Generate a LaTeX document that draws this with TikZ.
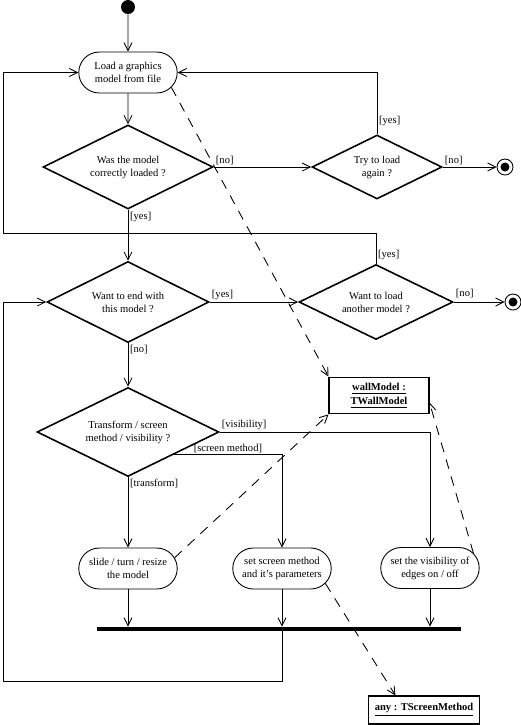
\documentclass[tikz,border=0pt]{standalone}
\usepackage{fontspec}
\setmainfont{Liberation Serif}
\usetikzlibrary{arrows.meta,shapes.geometric,shapes.misc}

\begin{document}
\begin{tikzpicture}[x=0.02cm,y=-0.02cm,
  font=\fontsize{6}{7.4}\selectfont,
  action/.style={draw,rounded rectangle,minimum width=2.04cm,minimum height=0.82cm,inner sep=1pt,align=center,line width=0.5pt},
  decision/.style={draw,diamond,aspect=2,inner sep=0pt,align=center,line width=0.9pt},
  objbox/.style={draw,rectangle,align=center,font=\fontsize{6}{8}\selectfont\bfseries,line width=0.6pt},
  flow/.style={-{Straight Barb[length=1.6mm,width=1.6mm]},line width=0.5pt},
  objflow/.style={flow,dash pattern=on 5.5pt off 4.5pt},
  lbl/.style={inner sep=1pt,font=\fontsize{6}{7}\selectfont},
  startdot/.style={circle,fill,inner sep=0pt,minimum size=0.28cm},
  enddot/.style={circle,draw,inner sep=0pt,minimum size=0.32cm,line width=0.5pt,
    path picture={\fill (path picture bounding box.center) circle (0.09cm);}},
  syncbar/.style={fill,inner sep=0pt,minimum width=7.28cm,minimum height=0.08cm}]
\useasboundingbox (0,0) rectangle (521,725);

% activity nodes
\node[startdot] (start) at (128,7) {};
\node[action] (load) at (128,72.5) {Load a graphics\\model from file};
\node[decision,minimum width=3.4cm,minimum height=1.68cm] (q1) at (128,167) {Was the model\\correctly loaded ?};
\node[decision,minimum width=2.6cm,minimum height=1.28cm] (q2) at (377,167) {Try to load\\again ?};
\node[enddot] (end1) at (505,167) {};
\node[decision,minimum width=3.24cm,minimum height=1.62cm] (q3) at (128,302) {Want to end with\\this model ?};
\node[decision,minimum width=3.08cm,minimum height=1.5cm] (q4) at (376,302) {Want to load\\another model ?};
\node[enddot] (end2) at (513,302) {};
\node[decision,minimum width=3.64cm,minimum height=1.78cm] (q5) at (128,432) {Transform / screen\\method / visibility ?};
\node[action] (slide) at (128,568.5) {slide / turn / resize\\the model};
\node[action] (scr) at (282,568.5) {set screen method\\and it's parameters};
\node[action] (vis) at (430,568) {set the visibility of\\edges on / off};
\node[syncbar] (bar) at (279,629) {};

% objects
\node[objbox,minimum width=2cm,minimum height=0.66cm] (wall) at (379,395.5) {\underline{wallModel :}\\\underline{TWallModel}};
\node[objbox,minimum width=2.12cm,minimum height=0.56cm] (any) at (424,710) {\underline{any : TScreenMethod}};

\coordinate (loopA) at (3,233);
\coordinate (loopB) at (3,681);

% control flow
\draw[flow] (start) -- (load);
\draw[flow] (load) -- (q1);
\draw[flow] (q1.east) node[lbl,above right]{[no]} -- (q2.west);
\draw[flow] (q2.north) node[lbl,above right,yshift=0.12cm]{[yes]} |- (load.east);
\draw[flow] (q2.east) node[lbl,above right]{[no]} -- (end1);
\draw[flow] (q1.south) node[lbl,below right]{[yes]} -- (q3.north);
\draw[flow] (q4.north) node[lbl,above right,yshift=0.04cm]{[yes]} |- (loopA) |- (load.west);
\draw[flow] (q3.east) node[lbl,above right]{[yes]} -- (q4.west);
\draw[flow] (q4.east) node[lbl,above right,yshift=0.04cm]{[no]} -- (end2);
\draw[flow] (q3.south) node[lbl,below right]{[no]} -- (q5.north);
\draw[flow] (q5.east) node[lbl,above right]{[visibility]} -| (vis.north);
\draw[flow] (q5.south east) -| node[lbl,pos=0.25,above]{[screen method]} (scr.north);
\draw[flow] (q5.south) node[lbl,below right]{[transform]} -- (slide.north);
\draw[flow] (slide.south) -- (slide.south |- bar.north);
\draw[flow] (scr.south) -- (scr.south |- bar.north);
\draw[flow] (vis.south) -- (vis.south |- bar.north);
\draw[flow] (scr.south |- bar.south) |- (loopB) |- (q3.west);

% object flow
\draw[objflow] (load.-19) -- (wall.north west);
\draw[objflow] (slide.13) -- (wall.south west);
\draw[objflow] (vis.19) -- (wall.-8);
\draw[objflow] (scr.-19) -- (any.153);
\end{tikzpicture}
\end{document}
